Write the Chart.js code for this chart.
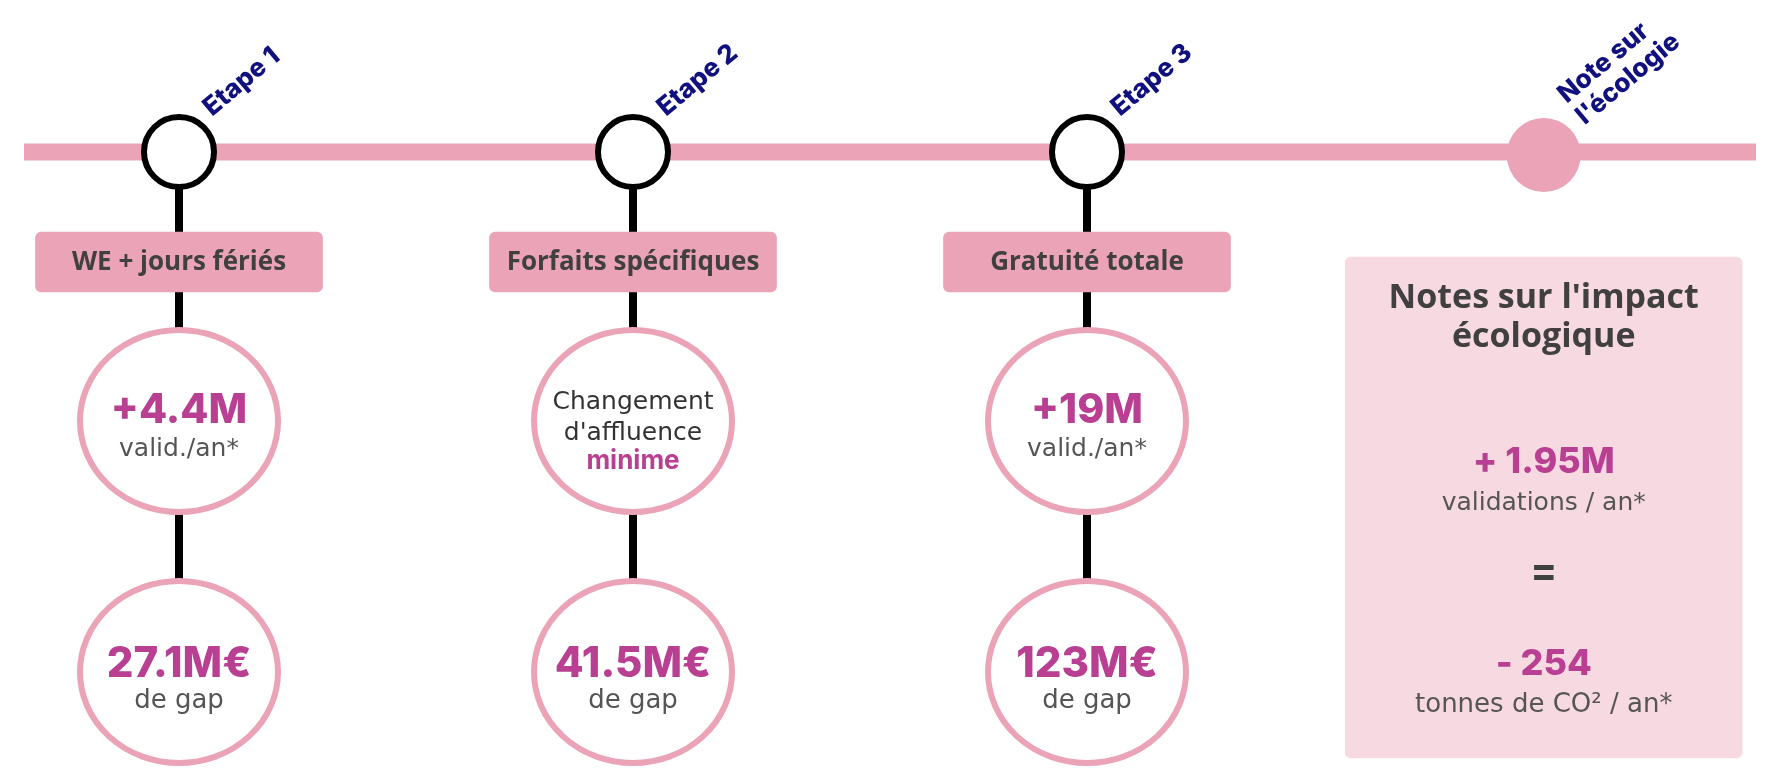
<!DOCTYPE html>
<html lang="fr">
<head>
<meta charset="utf-8">
<title>Frise des étapes</title>
<script src="https://cdn.jsdelivr.net/npm/chart.js@4.4.1/dist/chart.umd.min.js"></script>
<style>
  html, body { margin: 0; padding: 0; background: #ffffff; }
  #cadre { position: relative; width: 1770px; height: 780px; }
</style>
</head>
<body>
<div id="cadre"><canvas id="frise"></canvas></div>
<script>
// Données
const etapes = ['Etape 1', 'Etape 2', 'Etape 3'];
const noteEcologie = ['Note sur', "l'écologie"];
const mesures = ['WE + jours fériés', 'Forfaits spécifiques', 'Gratuité totale'];
const validationsM = [4.4, null, 19];      // millions de validations / an
const gapsM = [27.1, 41.5, 123];           // millions d'euros de gap
const affluenceTexte = ['Changement', "d'affluence", 'minime'];
const ecoTitre = ["Notes sur l'impact", 'écologique'];
const ecoValidationsM = 1.95;
const ecoCO2Tonnes = -254;

// Mise en page (axe x en "étapes", axe y en pixels depuis le haut)
const PAS = 454, ORIGINE = 179, LARGEUR = 1770, HAUTEUR = 780;
const NIV_FRISE = 152, NIV_NOTE = 155;
const MESURE_HAUT = 232, MESURE_BAS = 292;
const NIV_EFFET = 421, NIV_GAP = 672;
const PANNEAU_HAUT = 257, PANNEAU_BAS = 758;
const FRISE_DEBUT = (24 - ORIGINE) / PAS, FRISE_FIN = (1756 - ORIGINE) / PAS;
const POS_NOTE = 3.006;

const ROSE = '#eba3b7', ROSE_PALE = '#f7d9e1', MAGENTA = '#b83f91';
const MARINE = '#10107e', GRIS = '#404040', GRIS_CLAIR = '#555555', NOIR = '#000000';

// Ovale blanc cerclé de rose, utilisé comme style de point
function ovale(rx, ry, lw, fond, trait) {
    const c = document.createElement('canvas');
    c.width = Math.ceil(2 * rx + lw + 2);
    c.height = Math.ceil(2 * ry + lw + 2);
    const g = c.getContext('2d');
    g.beginPath();
    g.ellipse(c.width / 2, c.height / 2, rx, ry, 0, 0, Math.PI * 2);
    g.fillStyle = fond;
    g.fill();
    g.lineWidth = lw;
    g.strokeStyle = trait;
    g.stroke();
    return c;
}
const styleOvale = ovale(99, 91, 6, '#ffffff', ROSE);

// Textes dessinés à partir des échelles
const pluginTextes = {
    id: 'textes',
    afterDatasetsDraw(chart) {
        const ctx = chart.ctx;
        const sx = chart.scales.x, sy = chart.scales.y;
        const ecrire = (txt, x, y, font, color, align) => {
            ctx.font = font;
            ctx.fillStyle = color;
            ctx.textAlign = align || 'center';
            ctx.textBaseline = 'alphabetic';
            ctx.fillText(txt, x, y);
        };
        const incline = (lignes, x, y) => {
            ctx.save();
            ctx.translate(x, y);
            ctx.rotate(-40 * Math.PI / 180);
            lignes.forEach((l, k) => ecrire(l, 0, k * 28, '800 26px Inter', MARINE, 'left'));
            ctx.restore();
        };
        ctx.save();
        etapes.forEach((etape, i) => {
            const px = sx.getPixelForValue(i);
            incline([etape], px + 33, sy.getPixelForValue(NIV_FRISE) - 35);
            ecrire(mesures[i], px, sy.getPixelForValue(MESURE_BAS) - 22, 'bold 26px "Open Sans"', GRIS);

            const yEffet = sy.getPixelForValue(NIV_EFFET);
            if (validationsM[i] !== null) {
                ecrire('+' + validationsM[i] + 'M', px, yEffet + 2, '800 41px Inter', MAGENTA);
                ecrire('valid./an*', px, yEffet + 35, '25px "DejaVu Sans"', GRIS_CLAIR);
            } else {
                ecrire(affluenceTexte[0], px, yEffet - 12, '25px "DejaVu Sans"', '#333333');
                ecrire(affluenceTexte[1], px, yEffet + 19, '25px "DejaVu Sans"', '#333333');
                ecrire(affluenceTexte[2], px, yEffet + 48, 'bold 26px Inter', MAGENTA);
            }
            const yGap = sy.getPixelForValue(NIV_GAP);
            ecrire(gapsM[i] + 'M€', px, yGap + 5, '800 42px Inter', MAGENTA);
            ecrire('de gap', px, yGap + 36, '26px "DejaVu Sans"', GRIS_CLAIR);
        });

        const pn = sx.getPixelForValue(POS_NOTE);
        incline(noteEcologie, pn + 23, sy.getPixelForValue(NIV_NOTE) - 51);

        const haut = sy.getPixelForValue(PANNEAU_HAUT);
        ecrire(ecoTitre[0], pn, haut + 51, 'bold 34px "Open Sans"', GRIS);
        ecrire(ecoTitre[1], pn, haut + 90, 'bold 34px "Open Sans"', GRIS);
        ecrire('+ ' + ecoValidationsM + 'M', pn, haut + 216, '800 36px Inter', MAGENTA);
        ecrire('validations / an*', pn, haut + 253, '25px "DejaVu Sans"', GRIS_CLAIR);
        ecrire('=', pn, haut + 327, 'bold 40px Inter', GRIS);
        ecrire('- ' + Math.abs(ecoCO2Tonnes), pn, haut + 418, '800 36px Inter', MAGENTA);
        ecrire('tonnes de CO² / an*', pn, haut + 455, '26px "DejaVu Sans"', GRIS_CLAIR);
        ctx.restore();
    }
};

// Jeux de données
const tiges = etapes.map((e, i) => ({
    type: 'line',
    label: 'tige ' + e,
    data: [{ x: i, y: NIV_FRISE }, { x: i, y: NIV_GAP }],
    borderColor: NOIR,
    borderWidth: 8,
    pointRadius: 0,
    order: 5
}));

const datasets = [
    {
        type: 'line',
        label: 'frise',
        data: [{ x: FRISE_DEBUT, y: NIV_FRISE }, { x: FRISE_FIN, y: NIV_FRISE }],
        borderColor: ROSE,
        borderWidth: 17,
        borderCapStyle: 'butt',
        pointRadius: 0,
        order: 6
    },
    ...tiges,
    {
        type: 'scatter',
        label: 'étapes',
        data: etapes.map((e, i) => ({ x: i, y: NIV_FRISE })),
        pointRadius: 35,
        borderWidth: 6,
        backgroundColor: '#ffffff',
        borderColor: NOIR,
        order: 4
    },
    {
        type: 'scatter',
        label: 'note',
        data: [{ x: POS_NOTE, y: NIV_NOTE }],
        pointRadius: 37,
        borderWidth: 0,
        backgroundColor: ROSE,
        order: 4
    },
    {
        type: 'bar',
        label: 'mesures',
        data: mesures.map((m, i) => ({ x: i, y: [MESURE_HAUT, MESURE_BAS] })),
        backgroundColor: ROSE,
        borderRadius: 6,
        borderSkipped: false,
        grouped: false,
        categoryPercentage: 1,
        barPercentage: 1,
        maxBarThickness: 287,
        order: 3
    },
    {
        type: 'bar',
        label: 'panneau',
        data: [{ x: POS_NOTE, y: [PANNEAU_HAUT, PANNEAU_BAS] }],
        backgroundColor: ROSE_PALE,
        borderRadius: 6,
        borderSkipped: false,
        grouped: false,
        categoryPercentage: 1,
        barPercentage: 1,
        maxBarThickness: 397,
        order: 3
    },
    {
        type: 'scatter',
        label: 'effets',
        data: etapes.map((e, i) => ({ x: i, y: NIV_EFFET })),
        pointStyle: styleOvale,
        pointRadius: 10,
        order: 2
    },
    {
        type: 'scatter',
        label: 'gaps',
        data: gapsM.map((g, i) => ({ x: i, y: NIV_GAP })),
        pointStyle: styleOvale,
        pointRadius: 10,
        order: 2
    }
];

new Chart(document.getElementById('frise'), {
    type: 'scatter',
    data: { datasets: datasets },
    options: {
        responsive: true,
        maintainAspectRatio: false,
        animation: false,
        events: [],
        layout: { padding: 0, autoPadding: false },
        plugins: {
            legend: { display: false },
            tooltip: { enabled: false }
        },
        scales: {
            x: {
                type: 'linear',
                display: false,
                offset: false,
                min: -ORIGINE / PAS,
                max: (LARGEUR - ORIGINE) / PAS,
                afterBuildTicks: axe => { axe.ticks = [0, 1, 2, 3].map(v => ({ value: v })); }
            },
            y: {
                type: 'linear',
                display: false,
                reverse: true,
                min: 0,
                max: HAUTEUR
            }
        }
    },
    plugins: [pluginTextes]
});
</script>
</body>
</html>
